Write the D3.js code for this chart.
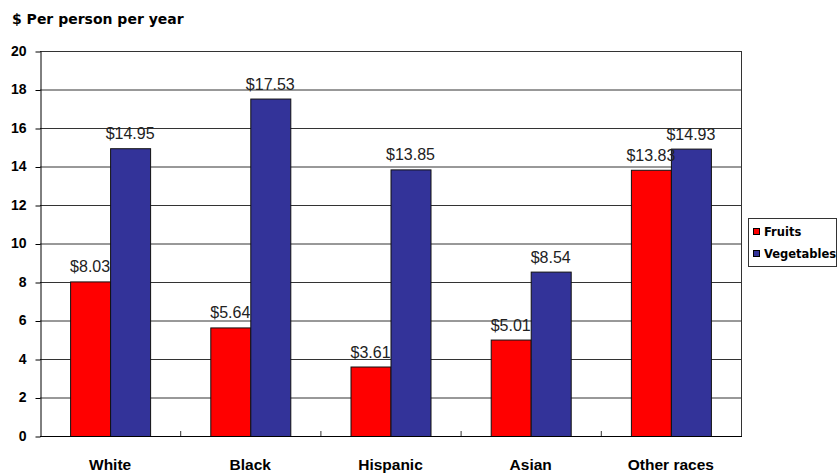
<!DOCTYPE html>
<html><head><meta charset="utf-8">
<script src="https://cdn.jsdelivr.net/npm/d3@7"></script>
<style>body{margin:0;background:#fff}svg{display:block}</style>
</head><body>
<svg id="c" width="838" height="475"></svg>
<script>
const categories = ["White","Black","Hispanic","Asian","Other races"];
const fruits = [8.03,5.64,3.61,5.01,13.83];
const vegetables = [14.95,17.53,13.85,8.54,14.93];
const seriesNames = ["Fruits","Vegetables"];
const seriesColors = ["#FF0000","#333399"];
const yTicks = [0,2,4,6,8,10,12,14,16,18,20];
const title = "$ Per person per year";

const svg = d3.select("#c");
const L=40, R=741, T=51, B=436;
const x = d3.scaleBand().domain(categories).range([L,R]);
const y = d3.scaleLinear().domain([0,20]).range([B,T]);
const inner = d3.scaleBand().domain(seriesNames).range([0,80]);

// gridlines
svg.append("g").selectAll("line").data(yTicks.filter(d=>d>0)).join("line")
  .attr("x1",L).attr("x2",R).attr("y1",d=>y(d)+0.5).attr("y2",d=>y(d)+0.5)
  .attr("stroke","#333").attr("stroke-width",1);

// y axis
const ya = svg.append("g").attr("transform",`translate(${L+0.5},0)`)
  .call(d3.axisLeft(y).tickValues(yTicks).tickSize(5).tickSizeOuter(0).tickPadding(9));
ya.select(".domain").attr("stroke","#000");
ya.selectAll(".tick line").attr("stroke","#000").attr("transform","translate(0,0.5)");
ya.selectAll("text").attr("font-family","Liberation Sans, Arial, sans-serif").attr("font-weight","bold").attr("font-size",14).attr("fill","#000");

// right border
svg.append("line").attr("x1",R+0.5).attr("x2",R+0.5).attr("y1",T).attr("y2",B).attr("stroke","#333");

const data = categories.map((c,i)=>({c, vals:[fruits[i],vegetables[i]]}));
const groups = svg.append("g").selectAll("g").data(data).join("g")
  .attr("transform",d=>`translate(${x(d.c)+x.bandwidth()/2-40},0)`);
groups.selectAll("rect").data(d=>d.vals.map((v,j)=>({v,s:seriesNames[j],j}))).join("rect")
  .attr("x",d=>inner(d.s)+0.5).attr("width",inner.bandwidth())
  .attr("y",d=>y(d.v)+0.5).attr("height",d=>B-y(d.v))
  .attr("fill",d=>seriesColors[d.j]).attr("stroke","#111").attr("stroke-width",1);
groups.selectAll("text").data(d=>d.vals.map((v,j)=>({v,s:seriesNames[j],j}))).join("text")
  .attr("x",d=>inner(d.s)+inner.bandwidth()/2).attr("y",d=>y(d.v)-9)
  .attr("text-anchor","middle").attr("font-family","Liberation Sans, Arial, sans-serif")
  .attr("font-size",16).attr("fill","#222").text(d=>"$"+d.v.toFixed(2));

// x axis
svg.append("line").attr("x1",L).attr("x2",R+1).attr("y1",B+0.5).attr("y2",B+0.5).attr("stroke","#000");
svg.append("g").selectAll("line").data(categories.slice(1)).join("line")
  .attr("x1",d=>x(d)+0.5).attr("x2",d=>x(d)+0.5).attr("y1",B-5).attr("y2",B).attr("stroke","#333");
svg.append("g").selectAll("text").data(categories).join("text")
  .attr("x",d=>x(d)+x.bandwidth()/2).attr("y",470).attr("text-anchor","middle")
  .attr("font-family","Liberation Sans, Arial, sans-serif").attr("font-weight","bold").attr("font-size",15.5)
  .text(d=>d);

// title
svg.append("text").attr("x",12).attr("y",24).attr("font-family","DejaVu Sans, Verdana, sans-serif")
  .attr("font-weight","bold").attr("font-size",14).text(title);

// legend
const lg = svg.append("g");
lg.append("rect").attr("x",748.5).attr("y",218.5).attr("width",88).attr("height",48)
  .attr("fill","#fff").attr("stroke","#333");
seriesNames.forEach((s,i)=>{
  const yy = 232 + i*22;
  lg.append("rect").attr("x",753.5).attr("y",yy-3.5).attr("width",6).attr("height",6)
    .attr("fill",seriesColors[i]).attr("stroke","#000");
  lg.append("text").attr("x",764).attr("y",yy+4).attr("font-family","DejaVu Sans, Verdana, sans-serif")
    .attr("font-weight","bold").attr("font-size",11.5).text(s);
});
</script>
</body></html>
